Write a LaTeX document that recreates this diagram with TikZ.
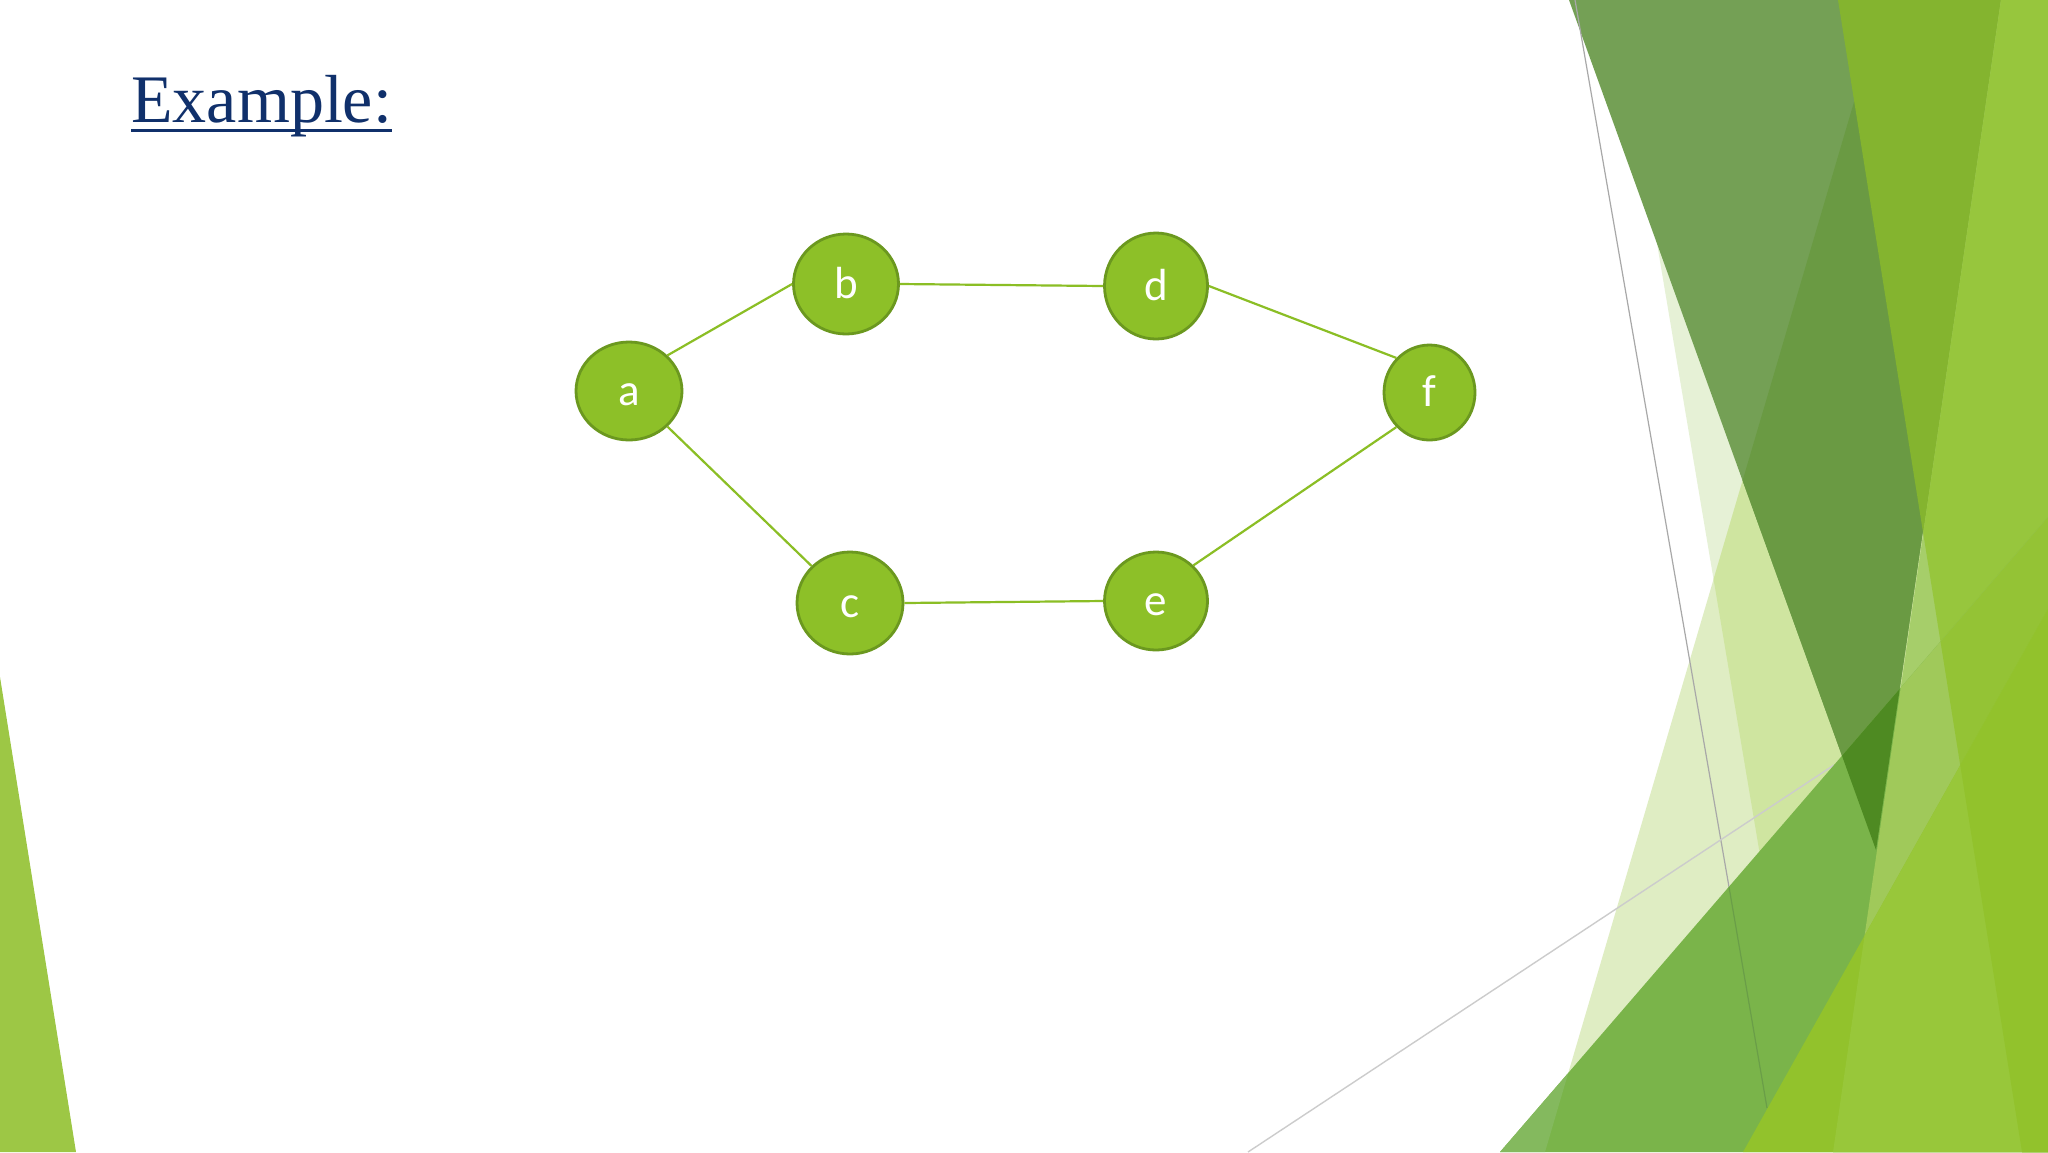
\documentclass[tikz,border=0pt]{standalone}
\usepackage{fontspec}
\setmainfont{Liberation Serif}
\newfontfamily\nodefont{Carlito}
\usetikzlibrary{shapes.geometric}
\definecolor{cP}{HTML}{E6F1D6}
\definecolor{cT}{HTML}{DFEDC3}
\definecolor{cTP}{HTML}{CFE5A0}
\definecolor{cD}{HTML}{74A055}
\definecolor{cDT}{HTML}{6A9A43}
\definecolor{cM}{HTML}{84B42F}
\definecolor{cL}{HTML}{97C63D}
\definecolor{cU}{HTML}{A6CE6A}
\definecolor{cUG}{HTML}{A0C95A}
\definecolor{cDG}{HTML}{4E8A22}
\definecolor{cG}{HTML}{7AB44A}
\definecolor{cGa}{HTML}{84B95E}
\definecolor{cGL}{HTML}{94C335}
\definecolor{cB}{HTML}{92C22C}
\definecolor{cBU}{HTML}{98C73A}
\definecolor{cLeft}{HTML}{9DC745}
\definecolor{cNode}{HTML}{8DC028}
\definecolor{cNodeB}{HTML}{6B981F}
\definecolor{cEdge}{HTML}{8BBE25}
\definecolor{cTitle}{HTML}{10306B}
\definecolor{cGrayA}{HTML}{A8A8A8}
\definecolor{cGrayB}{HTML}{CCCCCC}
\definecolor{cGrayG}{HTML}{6A9E48}
\newcommand\shpPi{(1616,0) -- (2048,0) -- (2048,1152) -- (1810,1152) -- cycle}
\newcommand\shpT{(1884,0) -- (2048,0) -- (2048,1152) -- (1545,1152) -- cycle}
\newcommand\shpLeftTau{(0,0) -- (1884,0) -- (1545,1152) -- (0,1152) -- cycle}
\newcommand\shpD{(1569,0) -- (2001,0) -- (1876,850) -- cycle}
\newcommand\shpRa{(1838,0) -- (2048,0) -- (2048,1152) -- (2022,1152) -- cycle}
\newcommand\shpRb{(2001,0) -- (2048,0) -- (2048,1152) -- (1833,1152) -- cycle}
\newcommand\shpG{(2048,517) -- (2048,1152) -- (1500,1152) -- cycle}
\newcommand\shpB{(2048,609) -- (2048,1152) -- (1743,1152) -- cycle}
\tikzset{
  vert/.style={ellipse, draw=cNodeB, line width=1.4pt, fill=cNode, text=white,
    inner sep=0pt, text height=17pt, text depth=3pt,
    font=\nodefont\fontsize{22.5}{26}\selectfont},
  edge/.style={draw=cEdge, line width=1.1pt},
  facetline/.style={line width=0.6pt}
}
\begin{document}
\begin{tikzpicture}[x=0.5pt,y=-0.5pt]
\useasboundingbox (0,0) rectangle (2048,1152);
\fill[white] (0,0) rectangle (2048,1152);
% left decoration
\fill[cLeft] (0,677) -- (76,1152) -- (0,1152) -- cycle;
% right decoration
\fill[cP] \shpPi;
\fill[cT] \shpT;
\begin{scope}\clip \shpPi; \fill[cTP] \shpT; \end{scope}
\fill[cD] \shpD;
\begin{scope}\clip \shpD; \fill[cDT] \shpT; \end{scope}
\fill[cM] \shpRa;
\fill[cU] \shpRb;
\begin{scope}\clip \shpRb; \fill[cL] \shpRa; \end{scope}
\draw[facetline, cGrayA] (1575,0) -- (1729,887);
\draw[facetline, cGrayB, line width=0.7pt] (1248,1152) -- (1834,765);
\fill[cG] \shpG;
\begin{scope}\clip \shpG; \fill[cGa] \shpLeftTau; \fill[cDG] \shpD; \end{scope}
\begin{scope}\clip \shpG; \clip \shpRb; \fill[cUG] \shpRb; \fill[cGL] \shpRa; \end{scope}
\draw[facetline, cGrayG] (1729,887) -- (1767,1108);
\fill[cB] \shpB;
\begin{scope}\clip \shpB; \clip \shpRb; \fill[cBU] \shpRb; \fill[cB] \shpRa; \end{scope}
% title
\node[anchor=base west, inner sep=0pt, text=cTitle, font=\fontsize{34}{40}\selectfont] (title) at (131,122) {Example:};
\draw[cTitle, line width=1.5pt] ([yshift=-4.2pt]title.base west) -- ([yshift=-4.2pt]title.base east);
% graph
\node[vert, minimum width=53pt, minimum height=49pt] (a) at (629,391) {a};
\node[vert, minimum width=52.5pt, minimum height=50pt] (b) at (846,284) {b};
\node[vert, minimum width=53pt, minimum height=51pt] (c) at (850,603) {c};
\node[vert, minimum width=51.5pt, minimum height=53pt] (d) at (1156,286) {d};
\node[vert, minimum width=51.5pt, minimum height=49pt] (e) at (1156,601) {e};
\node[vert, minimum width=45.5pt, minimum height=47.5pt] (f) at (1429.5,392.5) {f};
\draw[edge] (a.north east) -- (b.west);
\draw[edge] (b.east) -- (d.west);
\draw[edge] (d.east) -- (f.north west);
\draw[edge] (a.south east) -- (c.north west);
\draw[edge] (c.east) -- (e.west);
\draw[edge] (e.north east) -- (f.south west);
\end{tikzpicture}
\end{document}
